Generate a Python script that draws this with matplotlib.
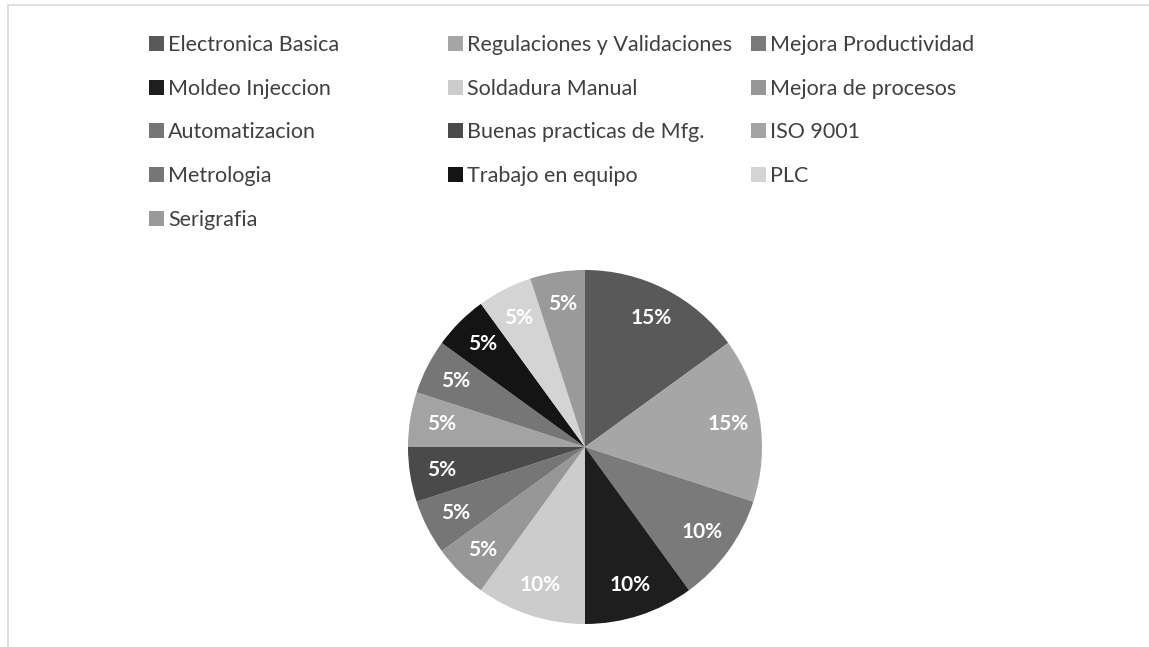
import matplotlib
matplotlib.use("Agg")
import matplotlib.pyplot as plt
from matplotlib.patches import Patch, Rectangle

# data
cursos = ["Electronica Basica", "Regulaciones y Validaciones", "Mejora Productividad",
          "Moldeo Injeccion", "Soldadura Manual", "Mejora de procesos",
          "Automatizacion", "Buenas practicas de Mfg.", "ISO 9001",
          "Metrologia", "Trabajo en equipo", "PLC", "Serigrafia"]
porcentajes = [15, 15, 10, 10, 10, 5, 5, 5, 5, 5, 5, 5, 5]
colores = ["#595959", "#a6a6a6", "#7a7a7a", "#1e1e1e", "#cccccc", "#979797",
           "#767676", "#4a4a4a", "#a3a3a3", "#767676", "#141414", "#d4d4d4", "#9a9a9a"]

plt.rcParams['font.family'] = ['Lato', 'DejaVu Sans']

fig = plt.figure(figsize=(11.49, 6.47), dpi=100)

# light frame of the chart area
fig.patches.append(Rectangle((0.007, -0.05), 1.05, 1.042, transform=fig.transFigure,
                             fill=False, edgecolor="#d9d9d9", linewidth=1.2))

# pie centred at about (585, 447) px with radius ~177 px
r = 177
cx, cy = 585, 647 - 447
ax = fig.add_axes([(cx - r) / 1149, (cy - r) / 647, 2 * r / 1149, 2 * r / 647])
wedges, texts, autotexts = ax.pie(porcentajes, colors=colores, startangle=90,
                                  counterclock=False, autopct='%1.0f%%',
                                  pctdistance=0.82,
                                  wedgeprops=dict(linewidth=0),
                                  textprops=dict(color="white", fontsize=15,
                                                 fontweight="bold"))
ax.set_aspect('auto')
ax.set_xlim(-1, 1)
ax.set_ylim(-1, 1)

# legend: three columns laid out row by row
col_x = [149, 448, 751]
for c in range(3):
    idx = list(range(c, len(cursos), 3))
    handles = [Patch(facecolor=colores[i], edgecolor="none") for i in idx]
    fig.legend(handles, [cursos[i] for i in idx], loc="upper left",
               bbox_to_anchor=(col_x[c] / 1149, 1 - 35 / 647), frameon=False,
               fontsize=15.5, handlelength=0.7, handleheight=0.7,
               handletextpad=0.2, labelspacing=1.1, borderpad=0,
               borderaxespad=0, labelcolor="#404040")

fig.savefig("out.png", dpi=100)
